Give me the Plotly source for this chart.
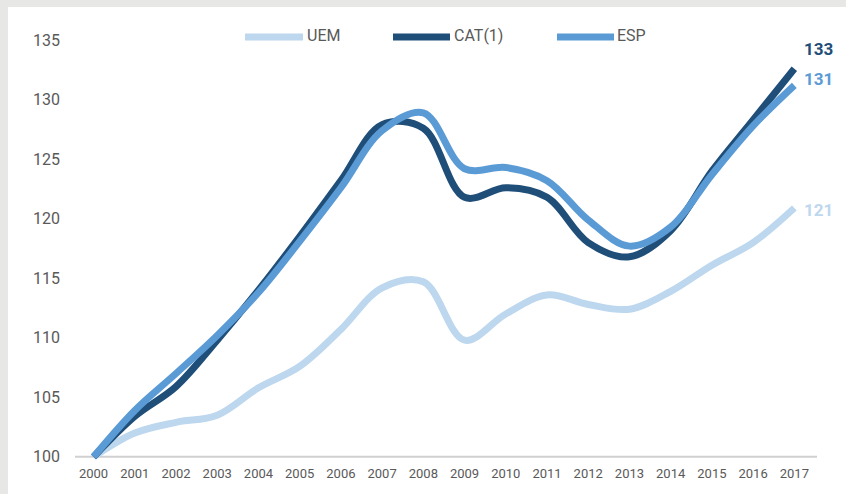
import plotly.graph_objects as go

years = list(range(2000, 2018))
uem = [100, 102.0, 102.9, 103.5, 105.8, 107.6, 110.7, 114.2, 114.7, 109.8, 112.0, 113.6, 112.8, 112.4, 113.9, 116.1, 118.0, 120.9]
cat = [100, 103.4, 105.9, 109.8, 114.0, 118.5, 123.2, 127.9, 127.6, 121.8, 122.6, 121.8, 118.0, 116.8, 119.0, 124.0, 128.3, 132.6]
esp = [100, 103.9, 107.0, 110.2, 113.8, 118.1, 122.6, 127.4, 128.9, 124.2, 124.3, 123.2, 119.9, 117.7, 119.3, 123.7, 127.8, 131.2]
series_names = ["UEM", "CAT(1)", "ESP"]
colors = ["#bdd7ee", "#1f4e79", "#5b9bd5"]
y_ticks = [100, 105, 110, 115, 120, 125, 130, 135]

W, H = 846, 494
L, R, T, B = 75, 29, 33, 30
FONT = "Roboto, sans-serif"
TXT = "#595959"

def px_x(p):
    return (p - L) / (W - L - R)

def px_y(p):
    return (H - B - p) / (H - T - B)

fig = go.Figure()
for name, vals, col in zip(series_names, [uem, cat, esp], colors):
    fig.add_trace(go.Scatter(x=years, y=vals, mode="lines", name=name,
                             line=dict(color=col, width=7, shape="spline", smoothing=1.0),
                             showlegend=False, hoverinfo="skip"))

# end labels
shifts = {"UEM": -2, "CAT(1)": 20, "ESP": 6}
for name, vals, col in zip(series_names, [uem, cat, esp], colors):
    fig.add_annotation(x=years[-1], y=vals[-1], text=f"<b>{vals[-1]:.0f}</b>",
                       showarrow=False, xanchor="left", yanchor="middle",
                       xshift=8, yshift=shifts[name],
                       font=dict(family=FONT, size=17, color=col))

shapes = []
# white panel over grey frame
shapes.append(dict(type="rect", xref="paper", yref="paper",
                   x0=px_x(8), x1=px_x(W + 5), y0=px_y(H + 5), y1=px_y(7),
                   fillcolor="white", line=dict(width=0), layer="below"))
# baseline at 100
shapes.append(dict(type="line", xref="paper", yref="y", x0=0, x1=1, y0=100, y1=100,
                   line=dict(color="#d0d0d0", width=2), layer="below"))

# custom legend
leg = [(245, 303, 305), (393, 450, 452), (557, 614, 615)]
for (a, b, t), name, col in zip(leg, series_names, colors):
    shapes.append(dict(type="line", xref="paper", yref="paper",
                       x0=px_x(a), x1=px_x(b), y0=px_y(37), y1=px_y(37),
                       line=dict(color=col, width=7)))
    fig.add_annotation(xref="paper", yref="paper", x=px_x(t), y=px_y(36),
                       text=name, showarrow=False, xanchor="left", yanchor="middle",
                       font=dict(family=FONT, size=16, color=TXT))

fig.update_layout(
    width=W, height=H,
    margin=dict(l=L, r=R, t=T, b=B),
    paper_bgcolor="#e7e7e6", plot_bgcolor="white",
    shapes=shapes,
    font=dict(family=FONT, color=TXT),
)
fig.update_xaxes(range=[1999.55, 2017.55], tickmode="array", tickvals=years,
                 ticktext=[str(y) for y in years], showgrid=False, zeroline=False,
                 showline=False, ticks="", tickfont=dict(family=FONT, size=13, color=TXT))
fig.update_yaxes(range=[99.4, 135.6], tickmode="array", tickvals=y_ticks,
                 ticktext=[str(v) for v in y_ticks], showgrid=False, zeroline=False,
                 showline=False, ticks="", ticklabelstandoff=14,
                 tickfont=dict(family=FONT, size=16, color=TXT))

fig.write_html("out.html", config={"displayModeBar": False},
               post_script="document.body.style.margin='0';")
